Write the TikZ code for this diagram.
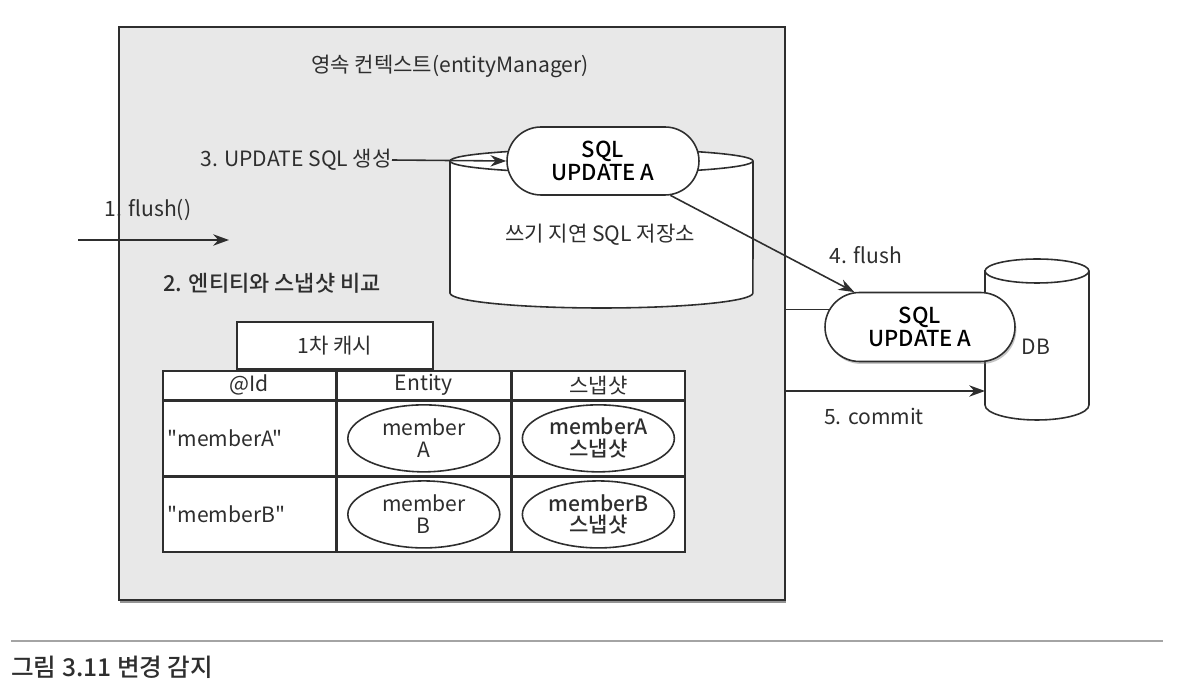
\documentclass[tikz,border=0pt]{standalone}
\usepackage{fontspec}
\defaultfontfeatures[\rmfamily,\sffamily]{}
\setmainfont{Noto Sans CJK KR}
\newfontfamily\medfont{Noto Sans CJK KR Medium}
\usepackage{tikz}
\usetikzlibrary{arrows.meta,positioning,shapes.geometric,shapes.misc,shadows}
\definecolor{ctxgray}{HTML}{E8E8E8}
\definecolor{inkgray}{HTML}{2E2E2E}
\definecolor{rulegray}{HTML}{A4A4A4}

\begin{document}
\begin{tikzpicture}[x=0.02cm, y=0.02cm, >={Stealth[length=9pt,width=6.5pt]},
    label/.style={font=\fontsize{12}{14}\selectfont, text=inkgray, inner sep=0pt},
    pill/.style={rounded rectangle, draw=inkgray, fill=white, line width=0.9pt, minimum width=3.84cm, minimum height=1.36cm, align=center, font=\fontsize{12.5}{13.5}\selectfont\medfont, inner sep=0pt},
    cell/.style={rectangle, draw=inkgray, fill=white, line width=0.9pt, minimum width=3.46cm, inner sep=0pt, font=\fontsize{12}{14}\selectfont, text=inkgray},
    member/.style={ellipse, draw=inkgray, line width=0.9pt, minimum width=3.04cm, minimum height=1.34cm, align=center, inner sep=0pt, font=\fontsize{12}{12.5}\selectfont, text=inkgray},
    drum/.style={draw=inkgray, fill=white, line width=0.9pt},
    flow/.style={->, line width=0.9pt, draw=inkgray}]

    \useasboundingbox (0,0) rectangle (1178,-692);

    % persistence context
    \node [draw=inkgray, fill=ctxgray, line width=1.1pt, minimum width=13.32cm, minimum height=11.46cm, anchor=north west,
           drop shadow={shadow xshift=0.8pt, shadow yshift=-1.6pt, opacity=0.6, fill=black!70}] (ctx) at (118,-26) {};
    \node [label] (ctxtitle) at (450,-66) {영속 컨텍스트(entityManager)};

    % write-behind store
    \draw [drum] (450,-161) -- (450,-293) arc[start angle=180, end angle=360, x radius=3.03cm, y radius=0.3cm]
        -- (753,-161) arc[start angle=0, end angle=180, x radius=3.03cm, y radius=0.24cm] -- cycle;
    \draw [drum, fill=none] (450,-161) arc[start angle=180, end angle=360, x radius=3.03cm, y radius=0.24cm];
    \node [label] (storelbl) at (600,-235) {쓰기 지연 SQL 저장소};
    \node [pill] (sqlbuf) at (603,-161) {SQL\\UPDATE A};

    \node [label, anchor=east] (step3) at (392,-160) {3. UPDATE SQL 생성};
    \draw [flow] (step3.east) -- (sqlbuf.west);

    % flush in
    \coordinate (flushin) at (78,-240);
    \coordinate (flushout) at (229,-240);
    \draw [flow] (flushin) -- (flushout);
    \node [label] (step1) at (148,-210) {1. flush()};
    \node [label, font=\fontsize{12.5}{14}\selectfont\medfont] (step2) at (272,-283) {2. 엔티티와 스냅샷 비교};

    % first-level cache
    \node [cell, minimum width=3.92cm, minimum height=0.94cm, anchor=south west] (cache) at (236,-370) {1차 캐시};
    \node [cell, minimum height=0.58cm, anchor=north west] (hid) at (162,-370) {@Id};
    \node [cell, minimum height=0.58cm, right=0pt of hid] (hent) {Entity};
    \node [cell, minimum height=0.58cm, right=0pt of hent] (hsnap) {스냅샷};
    \node [cell, minimum height=1.48cm, text width=3.26cm, inner xsep=0.1cm, align=left, below=0pt of hid] (ida) {"memberA"};
    \node [cell, minimum height=1.48cm, below=0pt of hent] (enta) {};
    \node [cell, minimum height=1.48cm, below=0pt of hsnap] (snapa) {};
    \node [cell, minimum height=1.5cm, text width=3.26cm, inner xsep=0.1cm, align=left, below=0pt of ida] (idb) {"memberB"};
    \node [cell, minimum height=1.5cm, below=0pt of enta] (entb) {};
    \node [cell, minimum height=1.5cm, below=0pt of snapa] (snapb) {};
    \node [member] (mema) at (enta) {member\\A};
    \node [member] (memb) at (entb) {member\\B};
    \node [member, font=\fontsize{12}{12.5}\selectfont\medfont] (snpa) at (snapa) {memberA\\스냅샷};
    \node [member, font=\fontsize{12}{12.5}\selectfont\medfont] (snpb) at (snapb) {memberB\\스냅샷};

    % database
    \draw [drum] (985,-271) -- (985,-405) arc[start angle=180, end angle=360, x radius=1.04cm, y radius=0.3cm]
        -- (1089,-271) arc[start angle=0, end angle=180, x radius=1.04cm, y radius=0.24cm] -- cycle;
    \draw [drum, fill=none] (985,-271) arc[start angle=180, end angle=360, x radius=1.04cm, y radius=0.24cm];
    \node [label] (dblbl) at (1036,-347) {DB};
    \coordinate (dbleft) at (985,-391);
    \node [pill, minimum width=3.8cm, minimum height=1.38cm, drop shadow={shadow xshift=0.8pt, shadow yshift=-1.4pt, opacity=0.45}] (sqlsent) at (920,-327) {SQL\\UPDATE A};

    \draw [flow] (sqlbuf.-27) -- (sqlsent.152);
    \node [label] (step4) at (866,-255) {4. flush};
    \draw [line width=0.9pt, inkgray] (ctx.east |- sqlsent.169) -- (sqlsent.169);
    \draw [flow] (ctx.east |- dbleft) -- (dbleft);
    \node [label] (step5) at (874,-416) {5. commit};

    % caption
    \coordinate (ruleL) at (11,-641);
    \coordinate (ruleR) at (1163,-641);
    \draw [rulegray, line width=1.2pt] (ruleL) -- (ruleR);
    \node [anchor=west, inner sep=0pt, font=\fontsize{14}{16}\selectfont\medfont, text=inkgray] (caption) at (11,-667) {그림 3.11 변경 감지};
\end{tikzpicture}
\end{document}
